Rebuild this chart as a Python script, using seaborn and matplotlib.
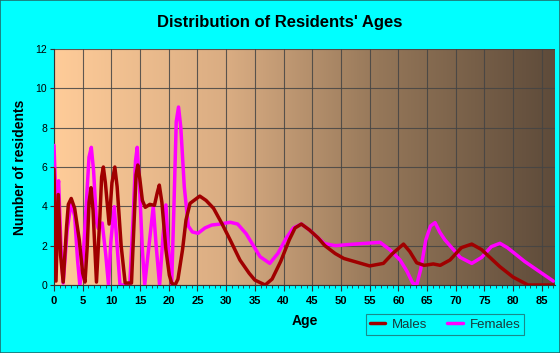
import numpy as np
import pandas as pd
import matplotlib
matplotlib.use("Agg")
import matplotlib.pyplot as plt
from matplotlib.colors import LinearSegmentedColormap
import seaborn as sns

male_age = [0, 0.35, 0.75, 1.15, 1.6, 2.2, 2.5, 3.0, 3.6, 4.4, 5.0, 5.4, 5.8, 6.1, 6.45, 6.8,
            7.4, 8.0, 8.3, 8.6, 8.95, 9.6, 10.1, 10.6, 11.0, 11.7, 12.4, 13.5, 14.0, 14.3,
            14.6, 14.95, 15.4, 15.9, 16.7, 17.5, 18.0, 18.35, 18.8, 19.5, 20.1, 20.5, 21.1,
            21.6, 22.4, 23.0, 23.7, 25.4, 26.5, 27.8, 29.3, 30.7, 32.4, 34.0, 35.0, 36.8,
            38.0, 39.5, 41.0, 42.0, 43.1, 44.5, 46.0, 47.2, 49.0, 50.5, 52.4, 55.0, 57.4,
            59.0, 60.9, 62.0, 63.2, 64.5, 66.1, 67.3, 69.0, 71.0, 72.8, 74.5, 77.7, 80.0,
            82.6, 87.0]
male_val = [5.9, 0.2, 4.6, 1.5, 0.15, 3.0, 4.1, 4.4, 3.9, 2.3, 0.6, 0.15, 2.0, 4.2, 4.95, 3.8,
            0.15, 3.5, 5.5, 6.0, 5.2, 3.1, 5.2, 6.0, 5.0, 2.0, 0.1, 0.1, 3.5, 5.6,
            6.1, 5.4, 4.3, 3.95, 4.1, 4.05, 4.7, 5.08, 4.2, 1.8, 0.5, 0.1, 0.0,
            0.3, 1.8, 3.3, 4.15, 4.52, 4.3, 3.9, 3.1, 2.29, 1.27, 0.6, 0.25, 0.0,
            0.3, 1.2, 2.3, 2.9, 3.1, 2.8, 2.4, 2.0, 1.6, 1.35, 1.19, 0.97, 1.1,
            1.6, 2.08, 1.7, 1.13, 1.0, 1.07, 1.0, 1.27, 1.9, 2.08, 1.8, 0.93, 0.4,
            0.0, 0.0]

female_age = [0, 0.35, 0.8, 1.2, 1.6, 2.3, 3.0, 3.6, 4.1, 4.5, 5.0, 5.6, 6.1, 6.5, 6.9, 7.4,
              7.7, 8.4, 9.0, 9.5, 9.9, 10.5, 11.0, 11.5, 13.2, 13.8, 14.2, 14.5, 14.9, 15.4,
              15.8, 16.4, 17.3, 17.8, 18.4, 19.0, 19.5, 19.9, 20.5, 20.9, 21.3, 21.7, 22.1,
              22.7, 23.4, 24.1, 25.1, 26.3, 27.5, 29.0, 30.7, 32.0, 33.5, 35.9, 37.6, 39.0,
              40.5, 41.7, 43.1, 44.5, 46.0, 47.2, 49.0, 52.4, 56.8, 58.5, 60.3, 61.5, 62.5,
              63.2, 63.9, 64.8, 65.6, 66.4, 67.2, 68.1, 69.0, 70.8, 72.8, 74.5, 76.2, 77.7,
              79.0, 82.0, 85.0, 87.0]
female_val = [7.1, 4.2, 5.3, 2.0, 0.1, 2.8, 4.2, 3.5, 1.3, 0.0, 1.0, 4.0, 6.5, 7.0, 5.8, 3.2,
              2.88, 3.15, 1.6, 0.0, 2.2, 3.98, 2.0, 0.0, 0.0, 3.5, 6.3, 7.0, 5.0, 1.8,
              0.0, 1.6, 4.0, 2.0, 0.0, 2.5, 4.07, 2.0, 0.0, 4.0, 8.3, 9.05, 8.0,
              5.0, 3.0, 2.7, 2.63, 2.9, 3.05, 3.1, 3.19, 3.1, 2.6, 1.44, 1.1, 1.6,
              2.4, 2.9, 3.1, 2.8, 2.4, 2.1, 2.0, 2.08, 2.17, 1.8, 1.27, 0.7, 0.1,
              0.0, 0.8, 2.3, 3.0, 3.17, 2.7, 2.3, 2.0, 1.4, 1.1, 1.4, 1.95, 2.12,
              1.9, 1.2, 0.6, 0.2]

series_names = ["Males", "Females"]
x_ticks = list(range(0, 90, 5))
y_ticks = list(range(0, 14, 2))

df = pd.concat([
    pd.DataFrame({"Age": male_age, "Residents": male_val, "Sex": series_names[0]}),
    pd.DataFrame({"Age": female_age, "Residents": female_val, "Sex": series_names[1]}),
], ignore_index=True)

sns.set_theme(style="white")
plt.rcParams["font.family"] = ["Liberation Sans", "DejaVu Sans"]
plt.rcParams["text.color"] = "black"
plt.rcParams["axes.labelcolor"] = "black"
plt.rcParams["xtick.color"] = "black"
plt.rcParams["ytick.color"] = "black"

fig = plt.figure(figsize=(5.6, 3.53), dpi=100, facecolor="#00FFFF")
ax = fig.add_axes([54 / 560, 1 - 285 / 353, (555 - 54) / 560, (285 - 49) / 353])

xmax = 87.3
ymax = 12
# gradient background
cmap = LinearSegmentedColormap.from_list(
    "bg", [(0.0, "#FFCC99"), (0.35, "#D9AC82"), (0.65, "#957759"), (1.0, "#5E4B3A")])
grad = np.linspace(0, 1, 256).reshape(1, -1)
ax.imshow(grad, extent=[0, xmax, 0, ymax], aspect="auto", cmap=cmap, zorder=0)

sns.lineplot(data=df, x="Age", y="Residents", hue="Sex", palette=["#A00000", "#FF00FF"],
             hue_order=series_names, estimator=None, sort=False, linewidth=2.5, ax=ax)
# males drawn above females
for ln in ax.lines:
    if ln.get_label() == "Males" or ln.get_color() in ("#A00000", "#a00000"):
        ln.set_zorder(4)
    else:
        ln.set_zorder(3)
ax.lines[0].set_zorder(4)

ax.set_xlim(0, xmax)
ax.set_ylim(0, ymax)
ax.set_xticks(x_ticks)
ax.set_xticks(np.arange(0, 88, 1), minor=True)
ax.set_yticks(y_ticks)
for xv in x_ticks:
    ax.axvline(xv, color="#444444", lw=0.8, alpha=0.85, zorder=1)
for yv in y_ticks:
    ax.axhline(yv, color="#444444", lw=0.8, alpha=0.85, zorder=1)

for s in ["top", "right"]:
    ax.spines[s].set_visible(False)
for s in ["left", "bottom"]:
    ax.spines[s].set_color("#333333")
    ax.spines[s].set_linewidth(0.8)

ax.tick_params(axis="x", which="major", direction="out", length=4, width=0.8,
               color="#333333", labelsize=8, pad=4, bottom=True)
ax.tick_params(axis="x", which="minor", direction="out", length=2.5, width=0.6,
               color="#333333", bottom=True)
ax.tick_params(axis="y", which="major", direction="out", length=3, width=0.8,
               color="#333333", labelsize=7.5, pad=2, left=True)
for lbl in ax.get_xticklabels():
    lbl.set_fontweight("bold")

ax.set_xlabel("Age", fontsize=10, fontweight="bold", labelpad=6)
ax.set_ylabel("Number of residents", fontsize=10, fontweight="bold", labelpad=6)
fig.text(0.5, 1 - 22 / 353, "Distribution of Residents' Ages", ha="center", va="center",
         fontsize=12, fontweight="bold")

handles, labels = ax.get_legend_handles_labels()
ax.legend(handles=handles, labels=labels, loc="center", bbox_to_anchor=(445 / 560, 1 - 324.5 / 353),
          bbox_transform=fig.transFigure, ncol=2, frameon=True, fancybox=False,
          edgecolor="#1f6f6f", facecolor="none", fontsize=9.5, handlelength=1.2,
          columnspacing=1.5, borderpad=0.3, handletextpad=0.5, labelcolor="#1a3a3a")
ax.get_legend().get_frame().set_linewidth(0.8)

# outer border
fig.patches.append(plt.Rectangle((0, 0), 1, 1, transform=fig.transFigure, fill=False,
                                 edgecolor="#1f6f6f", linewidth=1.2))

fig.savefig("out.png", dpi=100, facecolor=fig.get_facecolor())
